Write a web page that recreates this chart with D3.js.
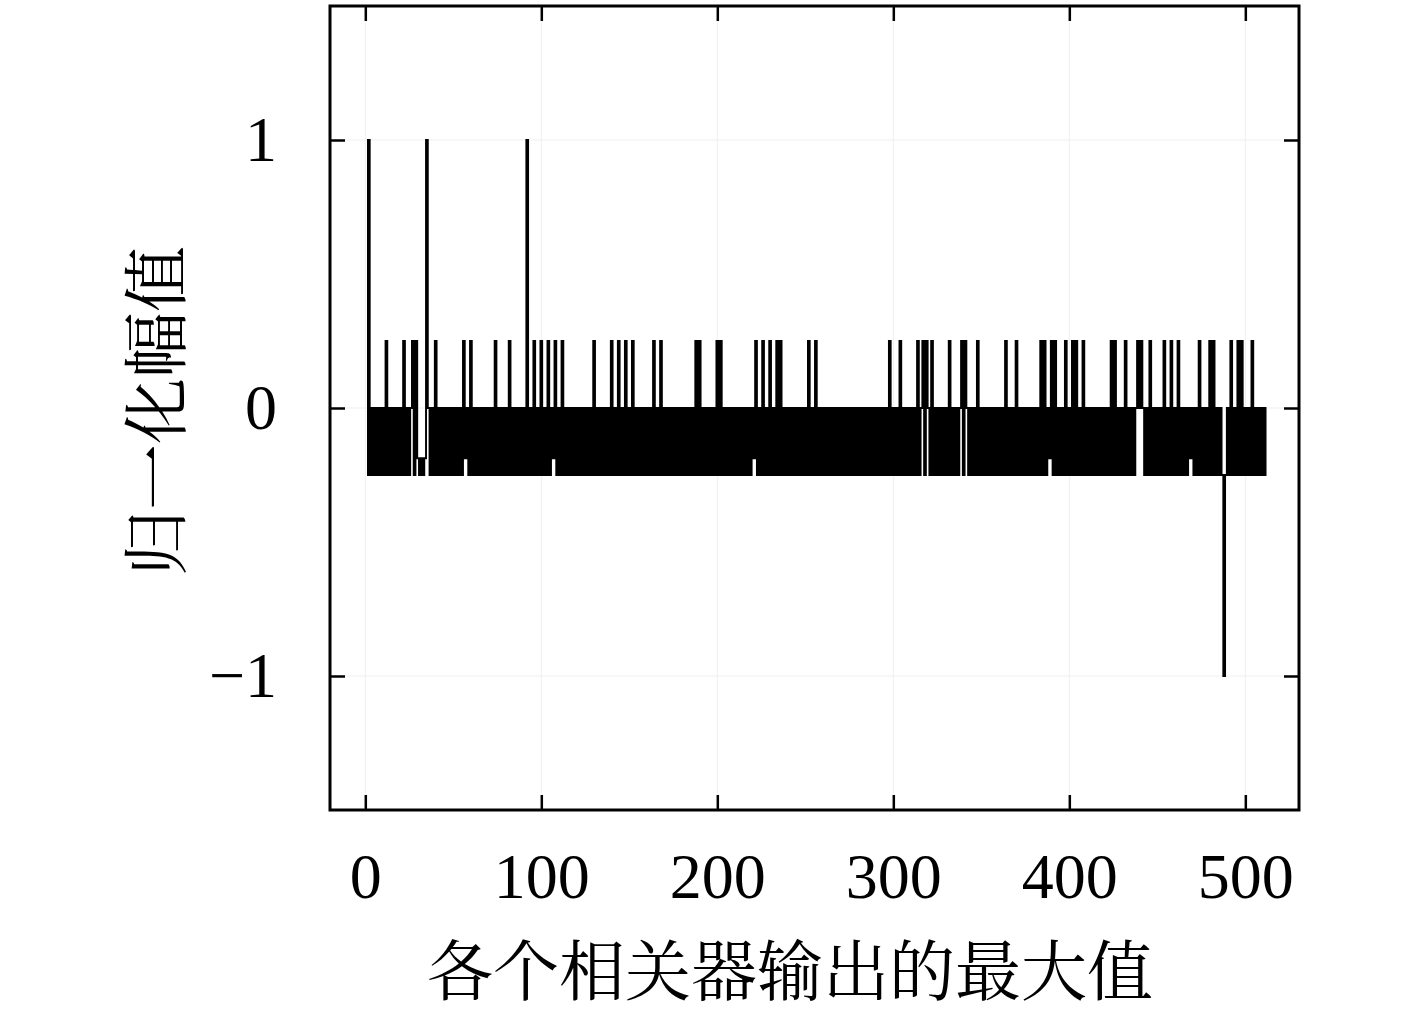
<!DOCTYPE html>
<html>
<head>
<meta charset="utf-8">
<script src="https://cdn.jsdelivr.net/npm/d3@7"></script>
<style>
html,body{margin:0;padding:0;background:#fff;}
svg{display:block;}
</style>
</head>
<body>
<svg id="chart" width="1417" height="1016"></svg>
<script>
// ---- data ----
const xTickValues = [0, 100, 200, 300, 400, 500];
const yTickValues = [-1, 0, 1];
const yTickLabels = ["\u22121", "0", "1"];
const xLabel = "各个相关器输出的最大值";
const yLabel = "归一化幅值";
// correlator index 1..512
const sampleCount = 512;
// normalized maxima of each correlator
const values = [
-.25,1,-.25,0,-.25,0,-.25,0,-.25,0,-.25,.25,-.25,0,-.25,0,
-.25,0,-.25,0,-.25,.25,-.25,0,-.25,0,.25,-.25,.25,-.1875,-.25,-.1875,
-.25,-.1875,1,0,-.25,0,-.25,.25,-.25,0,-.25,0,-.25,0,-.25,0,
-.25,0,-.25,0,-.25,0,-.25,.25,-.1875,0,-.25,.25,-.25,0,-.25,0,
-.25,0,-.25,0,-.25,0,-.25,0,-.25,.25,-.25,0,-.25,0,-.25,0,
-.25,.25,-.25,0,-.25,0,-.25,0,-.25,0,-.25,1,-.25,0,-.25,.25,
-.25,0,-.25,.25,-.25,0,-.25,.25,-.25,0,-.1875,.25,-.25,0,-.25,.25,
-.25,0,-.25,0,-.25,0,-.25,0,-.25,0,-.25,0,-.25,0,-.25,0,
-.25,.25,-.25,0,-.25,0,-.25,0,-.25,0,-.25,.25,-.25,0,-.25,.25,
-.25,0,-.25,.25,-.25,0,-.25,.25,-.25,0,-.25,0,-.25,0,-.25,0,
-.25,0,-.25,.25,-.25,0,-.25,.25,-.25,0,-.25,0,-.25,0,-.25,0,
-.25,0,-.25,0,-.25,0,-.25,0,-.25,0,-.25,.25,-.25,.25,-.25,0,
-.25,0,-.25,0,-.25,0,-.25,.25,-.25,.25,-.25,0,-.25,0,-.25,0,
-.25,0,-.25,0,-.25,0,-.25,0,-.25,0,-.25,0,-.1875,.25,-.25,0,
-.25,.25,-.25,0,-.25,.25,-.25,0,-.25,.25,-.25,.25,-.25,0,-.25,0,
-.25,0,-.25,0,-.25,0,-.25,0,-.25,0,-.25,.25,-.25,0,-.25,.25,
-.25,0,-.25,0,-.25,0,-.25,0,-.25,0,-.25,0,-.25,0,-.25,0,
-.25,0,-.25,0,-.25,0,-.25,0,-.25,0,-.25,0,-.25,0,-.25,0,
-.25,0,-.25,0,-.25,0,-.25,0,-.25,.25,-.25,0,-.25,0,-.25,.25,
-.25,0,-.25,0,-.25,0,-.25,0,-.25,.25,-.25,0,.25,-.25,.25,0,
-.25,.25,-.25,0,-.25,0,-.25,0,-.25,0,-.25,.25,-.25,0,-.25,0,
-.25,0,.25,-.25,.25,0,-.25,0,-.25,0,-.25,.25,-.25,0,-.25,0,
-.25,0,-.25,0,-.25,0,-.25,0,-.25,0,-.25,.25,-.25,0,-.25,0,
-.25,.25,-.25,0,-.25,0,-.25,0,-.25,0,-.25,0,-.25,0,-.25,.25,
-.25,.25,-.25,0,-.1875,.25,-.25,.25,-.25,0,-.25,0,-.25,.25,-.25,0,
-.25,.25,-.25,.25,-.25,0,-.25,.25,-.25,0,-.25,0,-.25,0,-.25,0,
-.25,0,-.25,0,-.25,0,-.25,.25,-.25,.25,-.25,0,-.25,0,-.25,.25,
-.25,0,-.25,0,-.25,0,.25,0,.25,0,-.25,0,-.25,.25,-.25,0,
-.25,0,-.25,0,-.25,.25,-.25,0,-.25,.25,-.25,0,-.25,.25,-.25,0,
-.25,0,-.25,0,-.1875,0,-.25,0,-.25,.25,-.25,0,-.25,0,-.25,.25,
-.25,.25,-.25,0,-.25,0,-.25,-1,-.25,0,-.25,.25,-.25,0,-.25,.25,
-.25,.25,-.25,0,-.25,0,-.25,.25,-.25,0,-.25,0,-.25,0,-.25,0
];
const indices = d3.range(1, sampleCount + 1);

// ---- layout ----
const L = 330, R = 1299, T = 6, B = 810;
const svg = d3.select("#chart");
const x = d3.scaleLinear().domain([-20.06, 530.5]).range([L, R]);
const y = d3.scaleLinear().domain([-1.5, 1.5]).range([B, T]);

const numFont = "'Liberation Serif', 'Times New Roman', serif";
const cjkFont = "'Noto Serif CJK SC', 'Noto Sans CJK SC', sans-serif";

// grid
const grid = svg.append("g").attr("stroke", "#efefef").attr("stroke-width", 1);
grid.selectAll("line.gx").data(xTickValues).join("line")
  .attr("x1", d => x(d)).attr("x2", d => x(d)).attr("y1", T).attr("y2", B);
grid.selectAll("line.gy").data(yTickValues).join("line")
  .attr("y1", d => y(d)).attr("y2", d => y(d)).attr("x1", L).attr("x2", R);

// data line (vertical transitions between successive correlators)
const line = d3.line().curve(d3.curveStep)
  .x((d, i) => x(indices[i])).y(d => y(d));
svg.append("path").datum(values)
  .attr("d", line)
  .attr("fill", "none")
  .attr("stroke", "#000")
  .attr("stroke-width", 1.9);

// axes
function styleAxis(g, labels) {
  g.select(".domain").remove();
  g.selectAll(".tick line").attr("stroke", "#000").attr("stroke-width", 2.5);
  g.selectAll(".tick text").attr("fill", "#000")
    .style("font-family", numFont).style("font-size", "64px");
  if (!labels) g.selectAll(".tick text").remove();
}
svg.append("g").attr("transform", `translate(0,${B})`)
  .call(d3.axisBottom(x).tickValues(xTickValues).tickSizeInner(-15).tickSizeOuter(0).tickPadding(43))
  .call(g => styleAxis(g, true));
svg.append("g").attr("transform", `translate(0,${T})`)
  .call(d3.axisTop(x).tickValues(xTickValues).tickSizeInner(-15).tickSizeOuter(0))
  .call(g => styleAxis(g, false));
svg.append("g").attr("transform", `translate(${L},0)`)
  .call(d3.axisLeft(y).tickValues(yTickValues).tickFormat((d, i) => yTickLabels[i]).tickSizeInner(-15).tickSizeOuter(0).tickPadding(53))
  .call(g => styleAxis(g, true));
svg.append("g").attr("transform", `translate(${R},0)`)
  .call(d3.axisRight(y).tickValues(yTickValues).tickSizeInner(-15).tickSizeOuter(0))
  .call(g => styleAxis(g, false));

// frame
svg.append("rect")
  .attr("x", L).attr("y", T).attr("width", R - L).attr("height", B - T)
  .attr("fill", "none").attr("stroke", "#000").attr("stroke-width", 3);

// axis labels
svg.append("text")
  .attr("x", 790).attr("y", 995)
  .attr("text-anchor", "middle")
  .style("font-family", cjkFont).style("font-size", "66px")
  .text(xLabel);
svg.append("text")
  .attr("transform", "translate(155,411) rotate(-90)")
  .attr("dy", "0.38em")
  .attr("text-anchor", "middle")
  .style("font-family", cjkFont).style("font-size", "66px")
  .text(yLabel);
</script>
</body>
</html>
